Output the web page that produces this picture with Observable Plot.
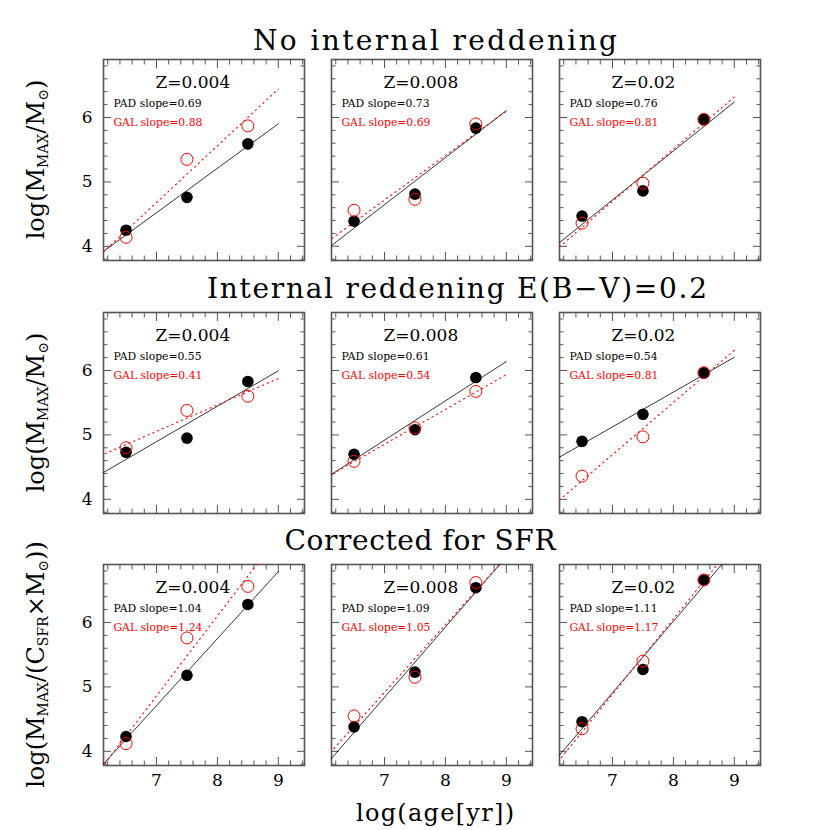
<!DOCTYPE html>
<html>
<head>
<meta charset="utf-8">
<script src="https://cdn.jsdelivr.net/npm/d3@7"></script>
<script src="https://cdn.jsdelivr.net/npm/@observablehq/plot@0.6"></script>
<style>
  html, body { margin: 0; padding: 0; background: #fff; }
  #fig { position: relative; width: 830px; height: 830px; overflow: hidden; font-family: "DejaVu Serif", serif; }
  #fig svg { position: absolute; overflow: visible; }
</style>
</head>
<body>
<div id="fig"></div>
<script>
// ---------------- data ----------------
const ages = [6.5, 7.5, 8.5];                       // log(age[yr])
const metallicities = ["Z=0.004", "Z=0.008", "Z=0.02"];
const rowTitles = ["No internal reddening", "Internal reddening E(B\u2212V)=0.2", "Corrected for SFR"];
const xTicks = [7, 8, 9];
const yTicks = [4, 5, 6];

// PAD (black filled) and GAL (red open) values, one array per panel [row][col]
const padNoRed = [[4.25, 4.76, 5.59], [4.39, 4.81, 5.835], [4.47, 4.86, 5.97]];
const galNoRed = [[4.14, 5.35, 5.87], [4.56, 4.73, 5.90], [4.36, 4.98, 5.97]];
const padRed   = [[4.73, 4.95, 5.83], [4.70, 5.08, 5.89], [4.90, 5.32, 5.965]];
const galRed   = [[4.80, 5.38, 5.60], [4.59, 5.11, 5.675], [4.36, 4.97, 5.965]];
const padSFR   = [[4.23, 5.18, 6.28], [4.38, 5.23, 6.54], [4.46, 5.27, 6.66]];
const galSFR   = [[4.12, 5.76, 6.56], [4.55, 5.15, 6.62], [4.35, 5.40, 6.66]];

const padSlopes = [[0.69, 0.73, 0.76], [0.55, 0.61, 0.54], [1.04, 1.09, 1.11]];
const galSlopes = [[0.88, 0.69, 0.81], [0.41, 0.54, 0.81], [1.24, 1.05, 1.17]];

const padRows = [padNoRed, padRed, padSFR];
const galRows = [galNoRed, galRed, galSFR];

// ---------------- layout ----------------
const fig = document.getElementById("fig");
const FONT = "DejaVu Serif, serif";
const frameW = 201, frameH = 201;
const colLeft = [103, 331, 559];
const rowTop = [59, 312, 564];
const m = {l: 45, r: 6, t: 6, b: 40};
const xDomain = [6.13, 9.43];
const yDomain = [3.78, 6.9];
const isInt = v => Math.abs(v - Math.round(v)) < 1e-6;
const minorX = d3.range(6.2, 9.41, 0.2).map(v => +v.toFixed(1)).filter(v => !isInt(v));
const minorY = d3.range(3.8, 6.81, 0.2).map(v => +v.toFixed(1)).filter(v => !isInt(v));
const lineX = [6.0, 9.0];
const TICK = "#555";

function fitLine(ys, slope) {
  const mx = d3.mean(ages), my = d3.mean(ys);
  return lineX.map(x => ({age: x, v: my + slope * (x - mx)}));
}

function panel(r, c) {
  const pad = padRows[r][c], gal = galRows[r][c];
  const pts = ages.map((a, i) => ({age: a, pad: pad[i], gal: gal[i]}));
  const tk = {stroke: TICK, strokeWidth: 1, label: null, tickFormat: () => ""};
  const marks = [
    Plot.axisX(minorX, {anchor: "bottom", tickSize: -4.5, ...tk}),
    Plot.axisX(minorX, {anchor: "top", tickSize: -4.5, ...tk}),
    Plot.axisX(xTicks, {anchor: "bottom", tickSize: -8, ...tk}),
    Plot.axisX(xTicks, {anchor: "top", tickSize: -8, ...tk}),
    Plot.axisY(minorY, {anchor: "left", tickSize: -4.5, ...tk}),
    Plot.axisY(minorY, {anchor: "right", tickSize: -4.5, ...tk}),
    Plot.axisY(yTicks, {anchor: "left", tickSize: -8, ...tk}),
    Plot.axisY(yTicks, {anchor: "right", tickSize: -8, ...tk}),
    Plot.frame({stroke: TICK, strokeWidth: 1.6}),
    Plot.line(fitLine(pad, padSlopes[r][c]), {x: "age", y: "v", stroke: "#000", strokeWidth: 0.8, clip: true}),
    Plot.line(fitLine(gal, galSlopes[r][c]), {x: "age", y: "v", stroke: "#ff0000", strokeWidth: 1.1, strokeDasharray: "1.2,4", clip: true}),
    Plot.dot(pts, {x: "age", y: "pad", r: 5.8, fill: "#000", stroke: "none"}),
    Plot.dot(pts, {x: "age", y: "gal", r: 6, fill: "none", stroke: "#ff0000", strokeWidth: 1}),
    Plot.text([metallicities[c]], {text: d => d, frameAnchor: "top-left", dx: 52, dy: 28, textAnchor: "start", lineAnchor: "bottom", fontSize: 17, fill: "#000"}),
    Plot.text(["PAD slope=" + padSlopes[r][c].toFixed(2)], {text: d => d, frameAnchor: "top-left", dx: 10, dy: 47, textAnchor: "start", lineAnchor: "bottom", fontSize: 10.8, fill: "#000"}),
    Plot.text(["GAL slope=" + galSlopes[r][c].toFixed(2)], {text: d => d, frameAnchor: "top-left", dx: 10, dy: 66, textAnchor: "start", lineAnchor: "bottom", fontSize: 10.8, fill: "#ff0000"})
  ];
  if (c === 0) marks.push(Plot.axisY(yTicks, {anchor: "left", tickSize: 0, tickPadding: 11, fontSize: 17, label: null, fill: "#000", tickFormat: d => String(d)}));
  if (r === 2) marks.push(Plot.axisX(xTicks, {anchor: "bottom", tickSize: 0, tickPadding: 8, fontSize: 17, label: null, fill: "#000", tickFormat: d => String(d)}));

  const svg = Plot.plot({
    width: frameW + m.l + m.r,
    height: frameH + m.t + m.b,
    marginLeft: m.l, marginRight: m.r, marginTop: m.t, marginBottom: m.b,
    x: {domain: xDomain, axis: null},
    y: {domain: yDomain, axis: null},
    style: {fontFamily: FONT, background: "none", color: "#000", overflow: "visible"},
    marks
  });
  svg.style.left = (colLeft[c] - m.l) + "px";
  svg.style.top = (rowTop[r] - m.t) + "px";
  fig.appendChild(svg);
}

for (let r = 0; r < 3; r++) for (let c = 0; c < 3; c++) panel(r, c);

// ---------------- titles and axis labels ----------------
const ov = d3.select(fig).append("svg")
  .attr("width", 830).attr("height", 830)
  .style("left", "0px").style("top", "0px")
  .style("font-family", FONT).style("pointer-events", "none");

const titlePos = [{x: 435, y: 50, len: 364}, {x: 457, y: 298, len: 500}, {x: 420, y: 550, len: 271}];
rowTitles.forEach((t, i) => {
  ov.append("text").attr("x", titlePos[i].x).attr("y", titlePos[i].y)
    .attr("text-anchor", "middle").attr("font-size", 28)
    .attr("textLength", titlePos[i].len).attr("lengthAdjust", "spacing")
    .text(t);
});

ov.append("text").attr("x", 435).attr("y", 821).attr("text-anchor", "middle")
  .attr("font-size", 24).attr("textLength", 158).attr("lengthAdjust", "spacing")
  .text("log(age[yr])");

function yLabel(cy, sfr) {
  const t = ov.append("text")
    .attr("transform", `translate(44,${cy}) rotate(-90)`)
    .attr("text-anchor", "middle").attr("font-size", 24);
  t.append("tspan").text("log(M");
  t.append("tspan").attr("baseline-shift", "-28%").attr("font-size", 14).text("MAX");
  if (sfr) {
    t.append("tspan").text("/(C");
    t.append("tspan").attr("baseline-shift", "-28%").attr("font-size", 14).text("SFR");
    t.append("tspan").text("\u00D7M");
    t.append("tspan").attr("baseline-shift", "-28%").attr("font-size", 14).text("\u2299");
    t.append("tspan").text("))");
  } else {
    t.append("tspan").text("/M");
    t.append("tspan").attr("baseline-shift", "-28%").attr("font-size", 14).text("\u2299");
    t.append("tspan").text(")");
  }
}
yLabel(rowTop[0] + frameH / 2, false);
yLabel(rowTop[1] + frameH / 2, false);
yLabel(rowTop[2] + frameH / 2, true);
</script>
</body>
</html>
